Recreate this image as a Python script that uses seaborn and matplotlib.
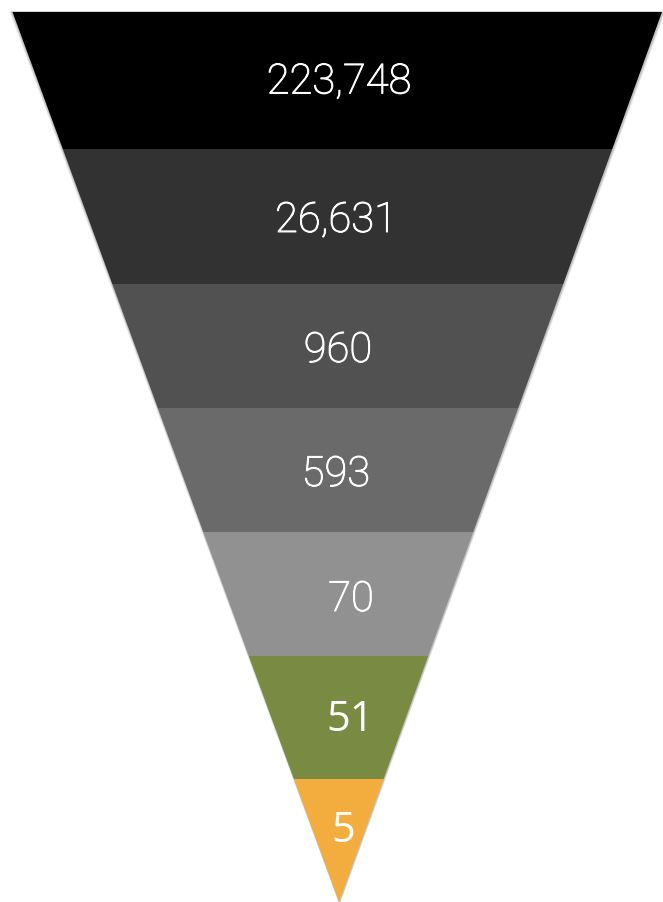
import matplotlib
matplotlib.use("Agg")
import matplotlib.pyplot as plt
import matplotlib.patheffects as pe
import seaborn as sns
import numpy as np

# ---- data ----
stages = ["Stage 1", "Stage 2", "Stage 3", "Stage 4", "Stage 5", "Stage 6", "Stage 7"]
values = [223748, 26631, 960, 593, 70, 51, 5]
labels = ["223,748", "26,631", "960", "593", "70", "51", "5"]
colors = ["#000000", "#323232", "#515151", "#6a6a6a", "#919191", "#798b42", "#f3ad3e"]

# ---- layout (pixel-like coordinates) ----
W, H = 663, 903
top_y, apex_y = 13.0, 903.0
left_top, right_top, apex_x = 12.5, 662.0, 339.0
band_edges = [13, 150, 285, 409, 533, 657, 780, 903]
label_x = [339, 336, 338, 336, 351, 350, 343]
label_base = [94.5, 233, 363, 487, 612, 731, 842]
label_font = ["Roboto"] * 5 + ["Open Sans"] * 2
label_size = [30, 30, 30, 30, 30, 30, 30]
label_weight = ["light"] * 5 + ["normal"] * 2
label_stroke = [0.7] * 5 + [0.0] * 2

sns.set_theme(style="white")

fig = plt.figure(figsize=(W / 100, H / 100), dpi=100)
ax = fig.add_axes([0, 0, 1, 1])
ax.set_xlim(0, W)
ax.set_ylim(H, 0)
ax.axis("off")


def left_x(y):
    return left_top + (apex_x - left_top) * (y - top_y) / (apex_y - top_y)


def right_x(y):
    return right_top + (apex_x - right_top) * (y - top_y) / (apex_y - top_y)


# soft shadow around the funnel outline
for grow, a in [(3.5, 0.05), (2.5, 0.08), (1.5, 0.12)]:
    ax.fill([left_top - grow, right_top + grow + 0.5, apex_x + 0.5],
            [top_y - grow * 0.3, top_y - grow * 0.3, apex_y + grow],
            color="#000000", alpha=a, lw=0, zorder=1)

for i, (val, col) in enumerate(zip(values, colors)):
    y0, y1 = band_edges[i], band_edges[i + 1]
    xs = [left_x(y0), right_x(y0), right_x(y1), left_x(y1)]
    ys = [y0, y0, y1, y1]
    ax.fill(xs, ys, color=col, lw=0, zorder=2)
    t = ax.text(label_x[i], label_base[i], labels[i], color="white",
                ha="center", va="baseline", fontsize=label_size[i],
                family=[label_font[i], "DejaVu Sans"], fontweight=label_weight[i],
                zorder=3)
    if label_stroke[i] > 0:
        t.set_path_effects([pe.withStroke(linewidth=label_stroke[i], foreground="white")])

fig.savefig("out.png", dpi=100, facecolor="white")
